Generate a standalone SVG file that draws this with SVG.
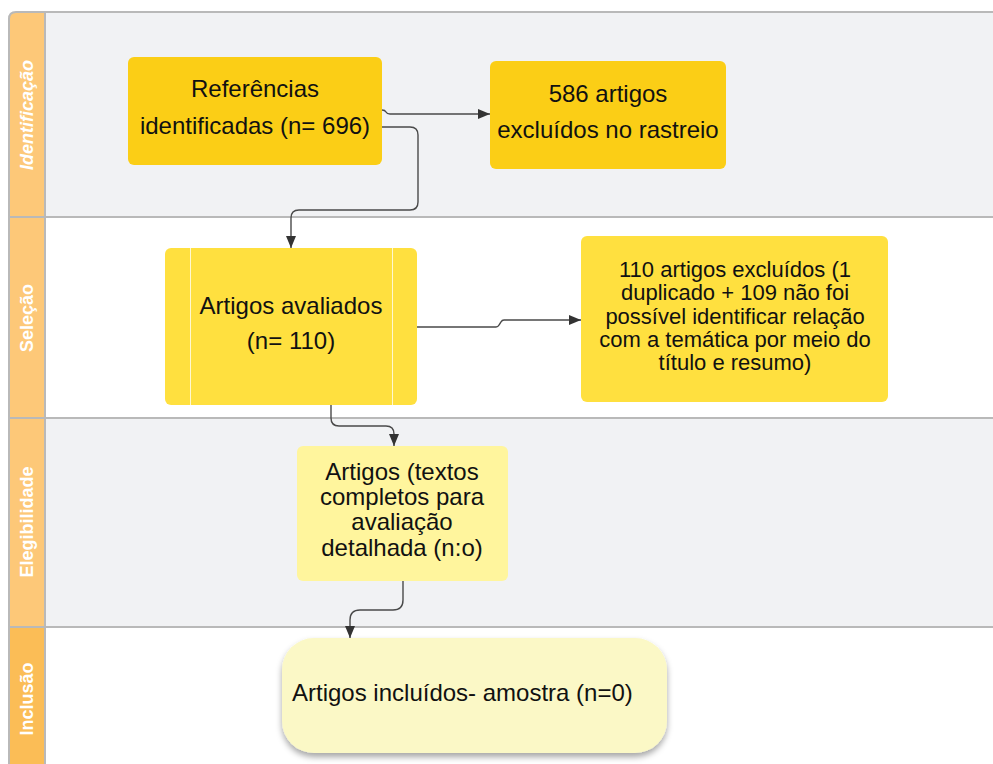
<svg xmlns="http://www.w3.org/2000/svg" width="993" height="764" viewBox="0 0 993 764">
  <style>
    .lane-label { font-family: "Liberation Sans", Arial, sans-serif; font-size: 18px; font-weight: bold; fill: #ffffff; text-anchor: middle; dominant-baseline: central; }
    .node-text { font-family: "Liberation Sans", Arial, sans-serif; font-size: 24px; fill: #111111; text-anchor: middle; }
    .small { font-size: 22px; }
    .conn { fill: none; stroke: #4a4a4a; stroke-width: 1.4; }
    .divider { stroke: #b9b9b9; stroke-width: 2; fill: none; }
  </style>
  <defs>
    <marker id="arrow" viewBox="0 0 12 10" refX="12" refY="5" markerWidth="12" markerHeight="10" markerUnits="userSpaceOnUse" orient="auto">
      <path d="M0,0 L12,5 L0,10 Z" fill="#333333"/>
    </marker>
    <filter id="shadow" x="-10%" y="-20%" width="120%" height="150%">
      <feDropShadow dx="0" dy="4" stdDeviation="3" flood-color="#000000" flood-opacity="0.35"/>
    </filter>
  </defs>

  <rect x="0" y="0" width="993" height="764" fill="#ffffff"/>

  <!-- swimlane pool -->
  <g id="lanes">
    <rect x="45" y="12" width="960" height="205" fill="#f1f2f4"/>
    <rect x="45" y="217" width="960" height="201" fill="#ffffff"/>
    <rect x="45" y="418" width="960" height="209" fill="#f1f2f4"/>
    <rect x="45" y="627" width="960" height="150" fill="#ffffff"/>

    <path d="M9,780 L9,19 Q9,12 16,12 L45,12 L45,780 Z" fill="#fdc878"/>
    <rect x="9" y="627" width="36" height="150" fill="#fbbd56"/>

    <path class="divider" d="M9,780 L9,19 Q9,12 16,12 L1000,12"/>
    <line class="divider" x1="45" y1="12" x2="45" y2="780"/>
    <line class="divider" x1="9" y1="217" x2="1000" y2="217"/>
    <line class="divider" x1="9" y1="418" x2="1000" y2="418"/>
    <line class="divider" x1="9" y1="627" x2="1000" y2="627"/>

    <text class="lane-label" font-style="italic" transform="translate(27,115) rotate(-90)">Identificação</text>
    <text class="lane-label" transform="translate(27,318) rotate(-90)">Seleção</text>
    <text class="lane-label" transform="translate(27,522) rotate(-90)">Elegibilidade</text>
    <text class="lane-label" transform="translate(27,699) rotate(-90)">Inclusão</text>
  </g>

  <!-- connectors -->
  <g id="connectors">
    <path class="conn" d="M382,110 Q385,110 386,112 Q387,114 390,114 L490,114" marker-end="url(#arrow)"/>
    <path class="conn" d="M382,127 L410,127 Q418,127 418,135 L418,202 Q418,210 410,210 L299,210 Q291,210 291,218 L291,248" marker-end="url(#arrow)"/>
    <path class="conn" d="M417,327 L496,327 Q498,327 499,325 L501,322 Q502,320 504,320 L581,320" marker-end="url(#arrow)"/>
    <path class="conn" d="M331,405 L331,418 Q331,426 339,426 L386,426 Q394,426 394,434 L394,446" marker-end="url(#arrow)"/>
    <path class="conn" d="M403,581 L403,600 Q403,610 393,610 L360,610 Q350,610 350,620 L350,638" marker-end="url(#arrow)"/>
  </g>

  <g id="node-referencias">
    <rect x="128" y="57" width="254" height="108" rx="6" fill="#fbce16"/>
    <text class="node-text" x="255" y="97">Referências</text>
    <text class="node-text" x="255" y="134">identificadas (n= 696)</text>
  </g>

  <g id="node-excluidos-rastreio">
    <rect x="490" y="61" width="236" height="108" rx="6" fill="#fbce16"/>
    <text class="node-text" x="608" y="102">586 artigos</text>
    <text class="node-text" x="608" y="138">excluídos no rastreio</text>
  </g>

  <g id="node-avaliados">
    <rect x="165" y="248" width="252" height="157" rx="6" fill="#ffe03f"/>
    <line x1="190.5" y1="248" x2="190.5" y2="405" stroke="#fff8d0" stroke-width="1"/>
    <line x1="392.5" y1="248" x2="392.5" y2="405" stroke="#fff8d0" stroke-width="1"/>
    <text class="node-text" x="291" y="314">Artigos avaliados</text>
    <text class="node-text" x="291" y="349">(n= 110)</text>
  </g>

  <g id="node-excluidos-titulo">
    <rect x="581" y="236" width="307" height="166" rx="6" fill="#ffe03f"/>
    <text class="node-text small" x="735" y="277">110 artigos excluídos (1</text>
    <text class="node-text small" x="735" y="300">duplicado + 109 não foi</text>
    <text class="node-text small" x="735" y="324">possível identificar relação</text>
    <text class="node-text small" x="735" y="347">com a temática por meio do</text>
    <text class="node-text small" x="735" y="370">título e resumo)</text>
  </g>

  <g id="node-textos-completos">
    <rect x="297" y="446" width="211" height="135" rx="6" fill="#fff59d"/>
    <text class="node-text" x="402" y="480">Artigos (textos</text>
    <text class="node-text" x="402" y="505">completos para</text>
    <text class="node-text" x="402" y="530">avaliação</text>
    <text class="node-text" x="402" y="556">detalhada (n:o)</text>
  </g>

  <g id="node-incluidos">
    <rect x="282" y="638" width="385" height="115" rx="32" fill="#fbf8c6" filter="url(#shadow)"/>
    <text class="node-text" x="292" y="701" style="text-anchor:start">Artigos incluídos- amostra (n=0)</text>
  </g>
</svg>
